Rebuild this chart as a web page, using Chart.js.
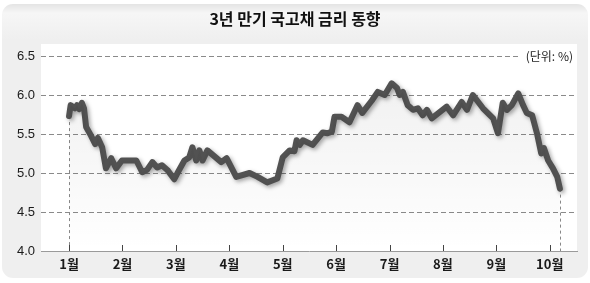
<!DOCTYPE html>
<html>
<head>
<meta charset="utf-8">
<script src="https://cdn.jsdelivr.net/npm/chart.js@4"></script>
<style>
  html, body { margin: 0; padding: 0; background: #fff; }
  #wrap { width: 590px; height: 283px; }
</style>
</head>
<body>
<div id="wrap"><canvas id="rateChart" width="590" height="283"></canvas></div>
<script>
'use strict';

// --- data (month position, rate %) ---
const months = [1.00, 1.03, 1.11, 1.15, 1.19, 1.24, 1.28, 1.32, 1.41, 1.49, 1.54, 1.62, 1.69, 1.79, 1.88, 1.99,
  2.26, 2.37, 2.46, 2.56, 2.65, 2.74, 2.84, 2.97, 3.03, 3.16, 3.25, 3.31, 3.38, 3.44, 3.50, 3.59,
  3.85, 3.95, 4.13, 4.38, 4.53, 4.71, 4.90, 5.00, 5.13, 5.22, 5.26, 5.32, 5.38, 5.56, 5.75, 5.84,
  5.92, 5.97, 6.10, 6.25, 6.40, 6.49, 6.67, 6.78, 6.91, 7.04, 7.14, 7.19, 7.25, 7.34, 7.44, 7.53,
  7.62, 7.70, 7.79, 8.07, 8.19, 8.35, 8.45, 8.56, 8.75, 8.94, 9.03, 9.12, 9.20, 9.29, 9.41, 9.50,
  9.57, 9.67, 9.76, 9.84, 9.89, 9.97, 10.06, 10.14, 10.19];
const rates = [5.73, 5.87, 5.83, 5.87, 5.82, 5.90, 5.83, 5.59, 5.48, 5.37, 5.45, 5.33, 5.06, 5.19, 5.06, 5.16,
  5.16, 5.01, 5.04, 5.14, 5.07, 5.10, 5.04, 4.92, 5.00, 5.16, 5.20, 5.33, 5.16, 5.29, 5.16, 5.29,
  5.14, 5.19, 4.95, 5.00, 4.95, 4.88, 4.93, 5.20, 5.29, 5.28, 5.42, 5.36, 5.42, 5.36, 5.52, 5.51,
  5.53, 5.72, 5.72, 5.65, 5.87, 5.77, 5.93, 6.04, 6.00, 6.15, 6.09, 6.00, 6.04, 5.87, 5.81, 5.83,
  5.74, 5.81, 5.70, 5.85, 5.74, 5.91, 5.81, 6.00, 5.83, 5.70, 5.51, 5.90, 5.81, 5.87, 6.02, 5.87,
  5.77, 5.74, 5.51, 5.25, 5.32, 5.16, 5.06, 4.95, 4.80];
const monthTicks = [1, 2, 3, 4, 5, 6, 7, 8, 9, 10];
const rateTicks = [4.0, 4.5, 5.0, 5.5, 6.0, 6.5];
const title = '3년 만기 국고채 금리 동향';
const unitLabel = '(단위: %)';

const points = months.map((m, i) => ({ x: m, y: rates[i] }));

// --- background box, title, plot panel ---
const framePlugin = {
    id: 'frame',
    beforeDraw(chart) {
        const { ctx, chartArea: a } = chart;
        ctx.save();
        ctx.fillStyle = '#fff';
        ctx.fillRect(0, 0, chart.width, chart.height);
        const g = ctx.createLinearGradient(0, 4, 0, 40);
        g.addColorStop(0, '#e4e4e4');
        g.addColorStop(0.25, '#f6f6f6');
        g.addColorStop(1, '#efefef');
        ctx.fillStyle = g;
        ctx.beginPath();
        ctx.roundRect(2, 4, chart.width - 4, chart.height - 9, 11);
        ctx.fill();
        ctx.fillStyle = '#fff';
        ctx.fillRect(a.left, a.top, a.right - a.left, a.bottom - a.top);
        ctx.fillStyle = '#111';
        ctx.font = 'bold 16px "Noto Sans CJK KR", sans-serif';
        ctx.textAlign = 'center';
        ctx.textBaseline = 'middle';
        ctx.fillText(title, chart.width / 2, 19);
        ctx.restore();
    },
    afterDraw(chart) {
        const { ctx, chartArea: a, scales: { x, y } } = chart;
        ctx.save();
        // unit label over the top grid line
        const uy = y.getPixelForValue(6.5);
        ctx.font = '12px "Noto Sans CJK KR", sans-serif';
        const tw = ctx.measureText(unitLabel).width;
        ctx.fillStyle = '#fff';
        ctx.fillRect(a.right - tw - 9, uy - 8, tw + 9, 16);
        ctx.fillStyle = '#222';
        ctx.textAlign = 'right';
        ctx.textBaseline = 'middle';
        ctx.fillText(unitLabel, a.right - 4, uy);
        // small tick marks on the axis, pointing up
        ctx.strokeStyle = '#444';
        ctx.lineWidth = 1;
        monthTicks.forEach(m => {
            const px = Math.round(x.getPixelForValue(m)) + 0.5;
            ctx.beginPath();
            ctx.moveTo(px, a.bottom - 6);
            ctx.lineTo(px, a.bottom);
            ctx.stroke();
        });
        ctx.restore();
    }
};

// --- dashed drop lines at first and last point ---
const dropPlugin = {
    id: 'drops',
    beforeDatasetsDraw(chart) {
        const { ctx, chartArea: a, scales: { x, y } } = chart;
        ctx.save();
        ctx.strokeStyle = '#888';
        ctx.lineWidth = 1;
        ctx.setLineDash([3, 3]);
        [0, months.length - 1].forEach(i => {
            const px = Math.round(x.getPixelForValue(months[i])) + 0.5;
            ctx.beginPath();
            ctx.moveTo(px, y.getPixelForValue(rates[i]));
            ctx.lineTo(px, a.bottom);
            ctx.stroke();
        });
        ctx.restore();
    }
};

// --- drop shadow for the line ---
const shadowPlugin = {
    id: 'lineShadow',
    beforeDatasetDraw(chart, args) {
        if (args.index !== 1) return;
        const ctx = chart.ctx;
        ctx.save();
        ctx.shadowColor = 'rgba(0,0,0,0.35)';
        ctx.shadowBlur = 4;
        ctx.shadowOffsetX = 2;
        ctx.shadowOffsetY = 2;
    },
    afterDatasetDraw(chart, args) {
        if (args.index !== 1) return;
        chart.ctx.restore();
    }
};

const ctxLine = document.getElementById('rateChart');
new Chart(ctxLine, {
    type: 'line',
    data: {
        datasets: [{
            data: points,
            borderWidth: 0,
            pointRadius: 0,
            fill: 'start',
            backgroundColor: (c) => {
                const a = c.chart.chartArea;
                if (!a) return 'rgba(0,0,0,0.04)';
                const g = c.chart.ctx.createLinearGradient(0, a.top, 0, a.bottom);
                g.addColorStop(0, 'rgba(0,0,0,0.07)');
                g.addColorStop(1, 'rgba(0,0,0,0)');
                return g;
            }
        }, {
            data: points,
            borderColor: '#525252',
            borderWidth: 6,
            borderJoinStyle: 'round',
            borderCapStyle: 'round',
            tension: 0,
            pointRadius: 0,
            fill: false
        }]
    },
    options: {
        responsive: false,
        animation: false,
        events: [],
        layout: { padding: { top: 44, right: 13, left: 0, bottom: 0 } },
        plugins: { legend: { display: false }, tooltip: { enabled: false } },
        scales: {
            x: {
                type: 'linear',
                min: 0.475,
                max: 10.51,
                afterBuildTicks: (s) => { s.ticks = monthTicks.map(v => ({ value: v })); },
                afterFit: (s) => { s.height = 32; },
                grid: { display: false, drawTicks: false },
                border: { display: true, color: '#9a9a9a', width: 1 },
                ticks: {
                    padding: 5,
                    color: '#1a1a1a',
                    font: { family: '"Noto Sans CJK KR", sans-serif', size: 13, weight: 'bold' },
                    callback: (v) => v + '월'
                }
            },
            y: {
                min: 4.0,
                max: 6.654,
                afterBuildTicks: (s) => { s.ticks = rateTicks.map(v => ({ value: v })); },
                afterFit: (s) => { s.width = 41; },
                border: { display: false, dash: [5, 3] },
                grid: {
                    drawTicks: false,
                    color: (c) => c.tick && c.tick.value === 4.0 ? 'rgba(0,0,0,0)' : '#8a8a8a',
                    lineWidth: 1
                },
                ticks: {
                    padding: 6,
                    color: '#1a1a1a',
                    font: { family: '"Liberation Sans", Arial, sans-serif', size: 13 },
                    callback: (v) => v.toFixed(1)
                }
            }
        }
    },
    plugins: [framePlugin, dropPlugin, shadowPlugin]
});
</script>
</body>
</html>
